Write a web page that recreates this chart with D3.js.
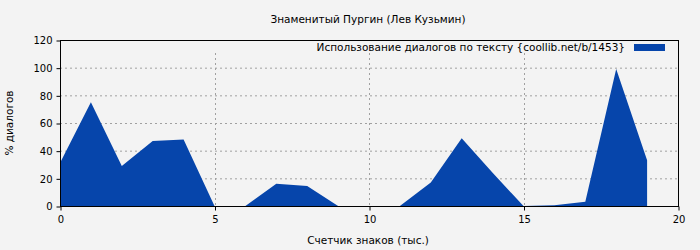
<!DOCTYPE html>
<html><head><meta charset="utf-8">
<script src="https://cdn.jsdelivr.net/npm/d3@7"></script>
<style>body{margin:0;background:#f3f3f3}svg{display:block}text{font-family:"DejaVu Sans",sans-serif;fill:#000}</style>
</head><body>
<svg id="c" width="700" height="250"></svg>
<script>
const xs = [0,1,2,3,4,5,6,7,8,9,10,11,12,13,14,15,16,17,18,19];
const vals = [31,75,29,47,48,0,0,16,14.5,0,0,0,17,49,24,0,0.5,3,99,33];
const xTicks = [0,5,10,15,20];
const yTicks = [0,20,40,60,80,100,120];
const title = "Знаменитый Пургин (Лев Кузьмин)";
const xLabel = "Счетчик знаков (тыс.)";
const yLabel = "% диалогов";
const legendLabel = "Использование диалогов по тексту {coollib.net/b/1453}";

const svg = d3.select("#c");
const L=60,R=678,T=40,B=206;
const x = d3.scaleLinear().domain([0,20]).range([L,R]);
const y = d3.scaleLinear().domain([0,120]).range([B,T]);
svg.append("rect").attr("width",700).attr("height",250).attr("fill","#f3f3f3");

const g = svg.append("g");
// grid
g.selectAll(".hg").data(yTicks.filter(d=>d>0&&d<120)).join("line")
 .attr("x1",L).attr("x2",R).attr("y1",d=>y(d)+0.5).attr("y2",d=>y(d)+0.5)
 .attr("stroke","#a0a0a0").attr("stroke-dasharray","2,3");
g.selectAll(".vg").data(xTicks.filter(d=>d>0&&d<20)).join("line")
 .attr("x1",d=>Math.round(x(d))+0.5).attr("x2",d=>Math.round(x(d))+0.5).attr("y1",53).attr("y2",B)
 .attr("stroke","#a0a0a0").attr("stroke-dasharray","2,3");

// area
const pts = xs.map((d,i)=>[d,vals[i]]);
const area = d3.area().x(d=>x(d[0])).y0(y(0)).y1(d=>y(d[1]));
g.append("path").datum(pts).attr("d",area).attr("fill","#0645ab");

// frame
g.append("rect").attr("x",L+0.5).attr("y",T+0.5).attr("width",R-L).attr("height",B-T)
 .attr("fill","none").attr("stroke","#000");

// axes
const xa = svg.append("g").attr("transform",`translate(0.5,${B+0.5})`)
 .call(d3.axisBottom(x).tickValues(xTicks).tickSize(4).tickPadding(5).tickFormat(d3.format("d")));
const ya = svg.append("g").attr("transform",`translate(${L+0.5},0.5)`)
 .call(d3.axisLeft(y).tickValues(yTicks).tickSize(4).tickPadding(4).tickFormat(d3.format("d")));
[xa,ya].forEach(a=>{a.select(".domain").remove();a.selectAll("text").style("font-family","DejaVu Sans").style("font-size","10px").attr("fill","#000");a.selectAll("line").attr("stroke","#000");});

svg.append("text").attr("x",368).attr("y",23).attr("text-anchor","middle").style("font-size","10.5px").text(title);
svg.append("text").attr("x",368).attr("y",244).attr("text-anchor","middle").style("font-size","10.5px").text(xLabel);
svg.append("text").attr("transform","translate(13,123) rotate(-90)").attr("text-anchor","middle").style("font-size","10.5px").text(yLabel);

// legend
svg.append("text").attr("x",625).attr("y",51).attr("text-anchor","end").style("font-size","10.5px").text(legendLabel);
svg.append("rect").attr("x",634).attr("y",44).attr("width",31).attr("height",7).attr("fill","#0645ab");
</script>
</body></html>
